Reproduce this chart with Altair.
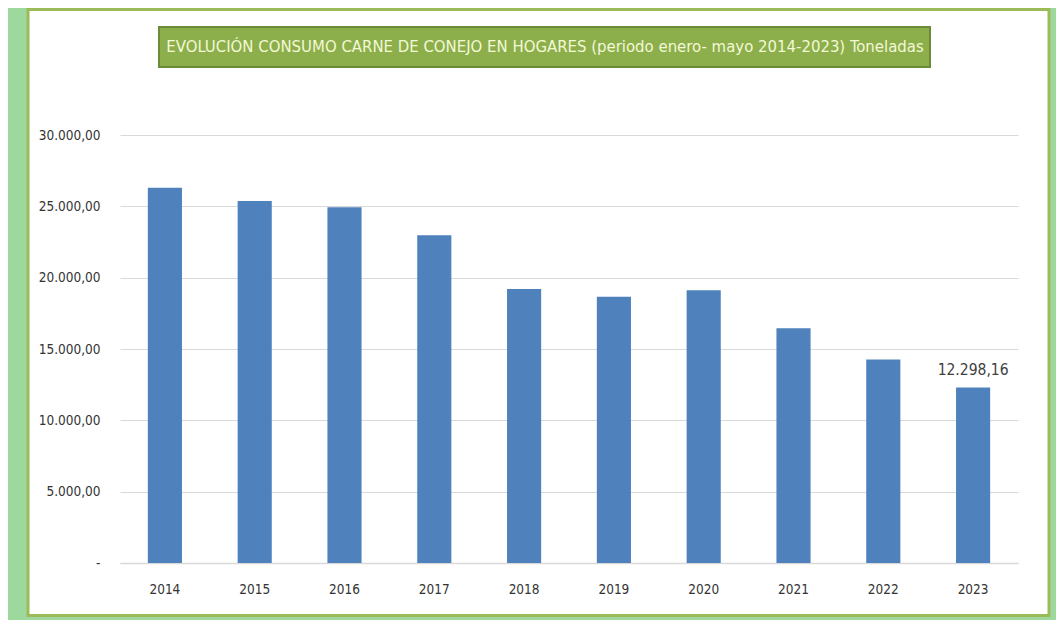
import altair as alt
import pandas as pd

years = ["2014", "2015", "2016", "2017", "2018", "2019", "2020", "2021", "2022", "2023"]
tonnes = [26300, 25370, 24930, 22970, 19210, 18670, 19120, 16460, 14260, 12298.16]
y_ticks = [0, 5000, 10000, 15000, 20000, 25000, 30000]
title_text = "EVOLUCIÓN CONSUMO CARNE DE CONEJO EN HOGARES (periodo enero- mayo 2014-2023) Toneladas"
labelled_year = "2023"

df = pd.DataFrame({"year": years, "tonnes": tonnes})
one = pd.DataFrame({"d": [0]})

FONT = "DejaVu Sans Condensed, sans-serif"
GREEN_BG = "#9dd99c"
W, H = 898, 428
TOTAL_W, TOTAL_H = 1048, 612
PAD_L, PAD_T = 112, 127


def es_num(field):
    return (f"replace(replace(replace(format({field}, ',.2f'), ',', '_'), '.', ','), '_', '.')")


def deco(x, x2, y, y2, **kw):
    return alt.Chart(one).mark_rect(**kw).encode(
        x=alt.value(x), x2=alt.value(x2), y=alt.value(y), y2=alt.value(y2)
    )


bottom_px = TOTAL_H - PAD_T
left_strip = deco(-PAD_L, -93, -PAD_T, bottom_px, fill=GREEN_BG)
right_strip = deco(930, TOTAL_W - PAD_L, -PAD_T, bottom_px, fill=GREEN_BG)
bottom_strip = deco(-PAD_L, TOTAL_W - PAD_L, bottom_px - 3, bottom_px, fill=GREEN_BG)
panel_border = deco(-92, 929, -125.5, bottom_px - 4.5, filled=False, stroke="#9bbb59", strokeWidth=3)
title_box = deco(39, 810, -108, -68, fill="#8caf4b", stroke="#6b8b36", strokeWidth=2)
title_mark = alt.Chart(one).mark_text(
    text=title_text, font=FONT, fontSize=16.6, color="#f3f8d6", align="center", baseline="middle"
).encode(x=alt.value(425), y=alt.value(-88))

bars = alt.Chart(df).mark_bar(color="#4f81bd").encode(
    x=alt.X(
        "year:N",
        sort=years,
        scale=alt.Scale(paddingInner=0.62, paddingOuter=0.31),
        axis=alt.Axis(
            title=None, labelAngle=0, ticks=False, domainColor="#d9d9d9", domainWidth=1.5,
            labelPadding=19, labelFont=FONT, labelFontSize=13.5, labelColor="#333333",
        ),
    ),
    y=alt.Y(
        "tonnes:Q",
        scale=alt.Scale(domain=[0, 30000], nice=False),
        axis=alt.Axis(
            title=None, values=y_ticks, domain=False, ticks=False, labelPadding=20,
            gridColor="#d9d9d9", gridWidth=1.2, labelFont=FONT, labelFontSize=13.5,
            labelColor="#333333",
            labelExpr="datum.value == 0 ? '-' : " + es_num("datum.value"),
        ),
    ),
)

label = alt.Chart(df).transform_filter(
    alt.datum.year == labelled_year
).transform_calculate(
    lab=es_num("datum.tonnes")
).mark_text(
    font=FONT, fontSize=15.5, color="#404040", baseline="alphabetic", dy=-13
).encode(x=alt.X("year:N", sort=years), y="tonnes:Q", text="lab:N")

chart = alt.layer(
    left_strip, right_strip, bottom_strip, panel_border, title_box, title_mark, bars, label
).properties(
    width=W, height=H,
    autosize=alt.AutoSizeParams(type="none"),
    padding={"left": PAD_L, "top": PAD_T, "right": TOTAL_W - PAD_L - W, "bottom": TOTAL_H - PAD_T - H},
).configure(background="white").configure_view(stroke=None)

chart.save("out.html", embed_options={"renderer": "svg", "actions": False})
